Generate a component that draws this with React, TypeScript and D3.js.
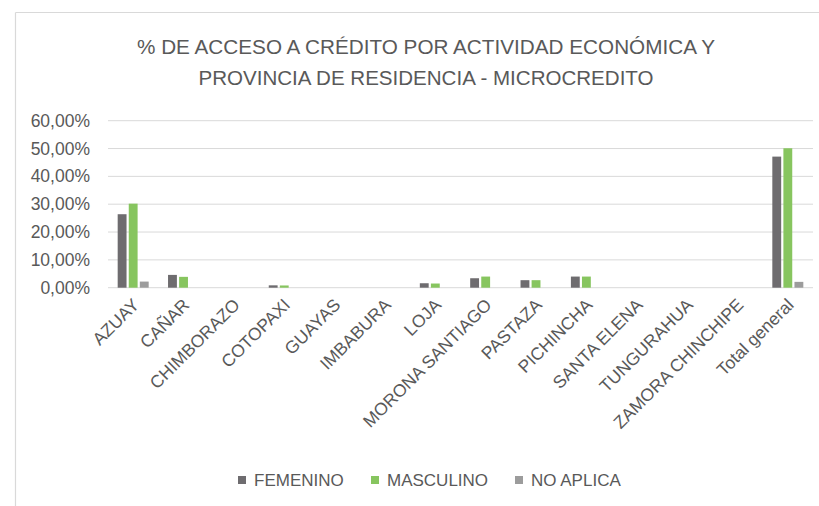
import React from "react";
import * as d3 from "d3";

const categories = [
  "AZUAY", "CAÑAR", "CHIMBORAZO", "COTOPAXI", "GUAYAS", "IMBABURA", "LOJA",
  "MORONA SANTIAGO", "PASTAZA", "PICHINCHA", "SANTA ELENA", "TUNGURAHUA",
  "ZAMORA CHINCHIPE", "Total general",
];
const seriesNames = ["FEMENINO", "MASCULINO", "NO APLICA"];
const femenino = [0.264, 0.046, 0, 0.0085, 0, 0, 0.016, 0.034, 0.027, 0.04, 0, 0, 0, 0.471];
const masculino = [0.302, 0.039, 0, 0.008, 0, 0, 0.015, 0.04, 0.027, 0.04, 0, 0, 0, 0.501];
const noAplica = [0.022, 0, 0, 0, 0, 0, 0, 0, 0, 0, 0, 0, 0, 0.021];
const yTicks = [0, 0.1, 0.2, 0.3, 0.4, 0.5, 0.6];
const yTickLabels = ["0,00%", "10,00%", "20,00%", "30,00%", "40,00%", "50,00%", "60,00%"];
const titleLines = [
  "% DE ACCESO A CRÉDITO POR ACTIVIDAD ECONÓMICA Y",
  "PROVINCIA DE RESIDENCIA - MICROCREDITO",
];
const colors = ["#6E6C6F", "#87C55F", "#9C9C9C"];

const W = 819;
const H = 506;
const FONT = "'Liberation Sans', Arial, sans-serif";
const TEXT = "#595959";

export default function App() {
  const values = [femenino, masculino, noAplica];
  const x0 = d3.scaleBand<string>().domain(categories).range([108, 813]).padding(0);
  const x1 = d3
    .scaleBand<string>()
    .domain(seriesNames)
    .range([-15.5, 15.5])
    .paddingInner(0.2);
  const y = d3.scaleLinear().domain([0, 0.6]).range([287.7, 120.7]);

  const legendX = [238, 371, 515];

  return (
    <svg
      width={W}
      height={H}
      style={{ position: "absolute", left: 0, top: 0, background: "#fff" }}
      fontFamily={FONT}
    >
      <rect x={0} y={0} width={W} height={H} fill="#fff" />
      <line x1={15.5} y1={12.5} x2={W} y2={12.5} stroke="#d9d9d9" strokeWidth={1.2} />
      <line x1={15.5} y1={12.5} x2={15.5} y2={H} stroke="#d9d9d9" strokeWidth={1.2} />

      {titleLines.map((t, i) => (
        <text
          key={i}
          x={426}
          y={54 + i * 31}
          textAnchor="middle"
          fontSize={20}
          fill={TEXT}
          textLength={i === 0 ? 578 : 455}
          lengthAdjust="spacingAndGlyphs"
        >
          {t}
        </text>
      ))}

      {yTicks.map((t, i) => (
        <g key={i}>
          <line
            x1={108}
            x2={813}
            y1={y(t)}
            y2={y(t)}
            stroke="#d9d9d9"
            strokeWidth={1}
          />
          <text
            x={90}
            y={y(t)}
            dy="0.35em"
            textAnchor="end"
            fontSize={17.5}
            fill={TEXT}
          >
            {yTickLabels[i]}
          </text>
        </g>
      ))}

      {categories.map((c, ci) => (
        <g key={c} transform={`translate(${x0(c)! + x0.bandwidth() / 2},0)`}>
          {seriesNames.map((s, si) => {
            const v = values[si][ci];
            if (!v) return null;
            return (
              <rect
                key={s}
                x={x1(s)!}
                y={y(v)}
                width={x1.bandwidth()}
                height={y(0) - y(v)}
                fill={colors[si]}
              />
            );
          })}
        </g>
      ))}

      {categories.map((c) => {
        const cx = x0(c)! + x0.bandwidth() / 2 + 7;
        const cy = 306;
        return (
          <text
            key={c}
            transform={`translate(${cx},${cy}) rotate(-45)`}
            textAnchor="end"
            fontSize={17.5}
            fill={TEXT}
          >
            {c}
          </text>
        );
      })}

      {seriesNames.map((s, i) => (
        <g key={s}>
          <rect x={legendX[i]} y={476} width={8} height={8} fill={colors[i]} />
          <text x={legendX[i] + 16} y={480} dy="0.35em" fontSize={17} fill={TEXT}>
            {s}
          </text>
        </g>
      ))}
    </svg>
  );
}
